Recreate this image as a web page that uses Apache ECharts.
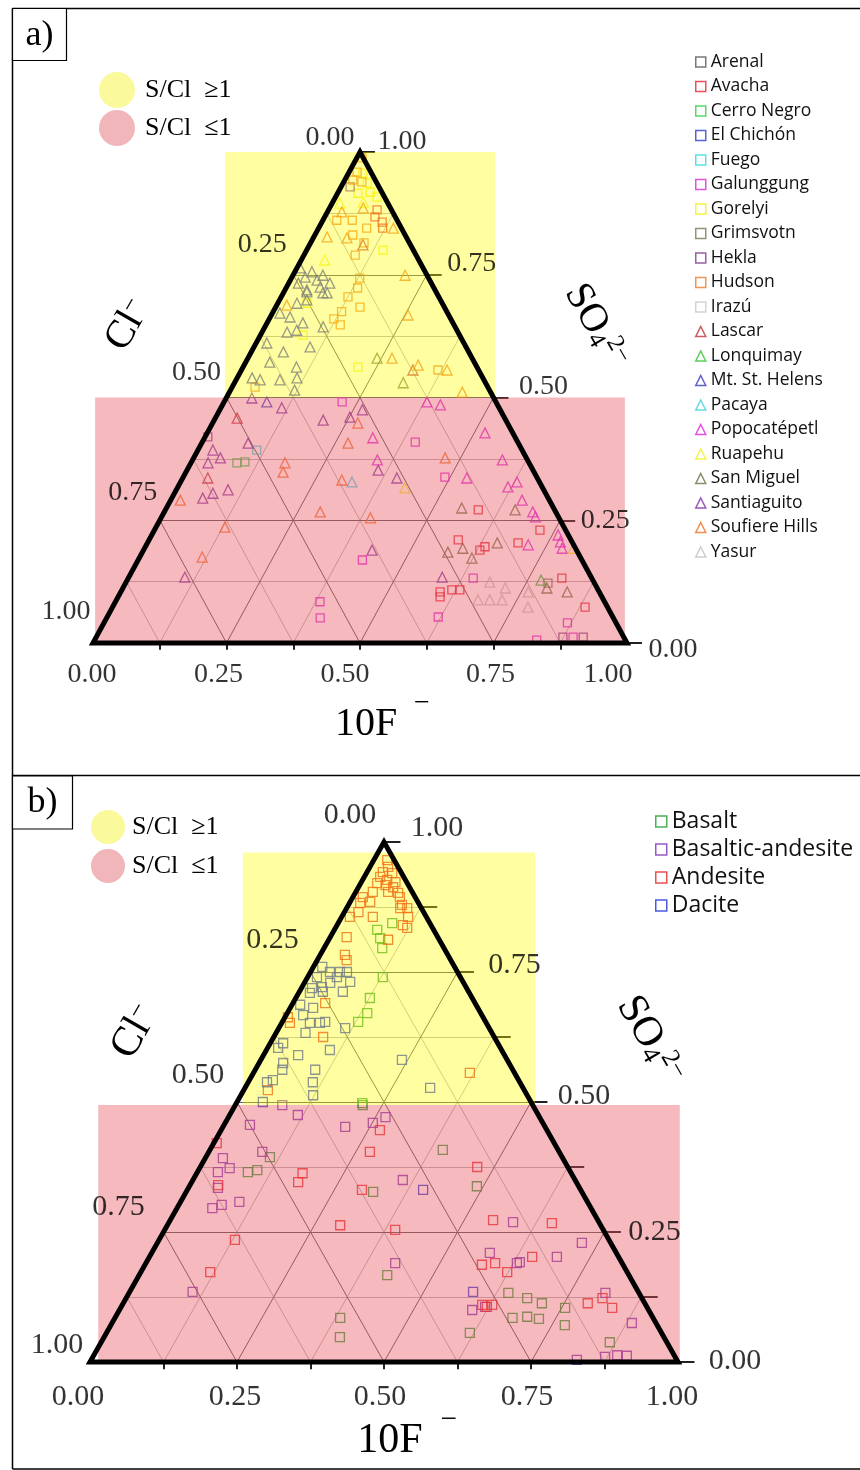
<!DOCTYPE html>
<html>
<head>
<meta charset="utf-8">
<script src="https://cdn.jsdelivr.net/npm/echarts@6.0.0/dist/echarts.min.js"></script>
<style>
  html, body { margin: 0; padding: 0; background: #fff; }
  #chart { width: 860px; height: 1470px; }
</style>
</head>
<body>
<div id="chart"></div>
<script>
(function() {
  var serif = '"Liberation Serif", "DejaVu Serif", serif';
  var sans = '"Open Sans", "Noto Sans", sans-serif';

  // ternary ticks
  var tickValues = [0, 0.25, 0.5, 0.75, 1];
  var tickLabels = ['0.00', '0.25', '0.50', '0.75', '1.00'];

  // --- panel a: volcanoes, points are [10F, SO4] fractions ---
  var volcanoes = ['Arenal', 'Avacha', 'Cerro Negro', 'El Chichón', 'Fuego', 'Galunggung', 'Gorelyi', 'Grimsvotn', 'Hekla', 'Hudson', 'Irazú',
    'Lascar', 'Lonquimay', 'Mt. St. Helens', 'Pacaya', 'Popocatépetl', 'Ruapehu', 'San Miguel', 'Santiaguito', 'Soufiere Hills', 'Yasur'];
  var volcanoColors = ['#555555', '#e8202a', '#2ecc40', '#2a3ad0', '#30d8d8', '#e020d8', '#f0f000', '#707a50', '#7a3a8a', '#f07a20', '#c8c8c8',
    '#c0303a', '#30c030', '#3a3ac0', '#40d0e0', '#e020e0', '#f0f020', '#6a7040', '#7a30a8', '#f07020', '#c0c0c0'];

  var arenal = [];
  var avacha = [[0.091, 0.882], [0.094, 0.868], [0.113, 0.857], [0.12, 0.845], [0.586, 0.271], [0.579, 0.21], [0.63, 0.189], [0.636, 0.196],
    [0.598, 0.104], [0.603, 0.094], [0.618, 0.108], [0.633, 0.108], [0.722, 0.23], [0.694, 0.204], [0.812, 0.132], [0.885, 0.073]];
  var cerroNegro = [[0.086, 0.367], [0.10, 0.369]];
  var elChichon = [];
  var fuego = [[0.11, 0.393]];
  var galunggung = [[0.221, 0.491], [0.399, 0.409], [0.49, 0.338], [0.42, 0.169], [0.383, 0.084], [0.40, 0.051], [0.646, 0.132], [0.62, 0.053],
    [0.868, 0.041], [0.893, 0.012], [0.828, 0.006]];
  var gorelyi = [[0.027, 0.957], [0.045, 0.937], [0.06, 0.918], [0.078, 0.908], [0.038, 0.916], [0.143, 0.80], [0.055, 0.692], [0.08, 0.627], [0.215, 0.562]];
  var grimsvotn = [[0.791, 0.122]];
  var hekla = [[0.017, 0.929], [0.005, 0.42], [0.874, 0.012], [0.912, 0.012]];
  var hudson = [[0.01, 0.988], [0.015, 0.959], [0.015, 0.943], [0.034, 0.939], [0.026, 0.861], [0.055, 0.861], [0.09, 0.845], [0.071, 0.831],
    [0.10, 0.815], [0.096, 0.79], [0.128, 0.743], [0.134, 0.723], [0.125, 0.705], [0.128, 0.675], [0.121, 0.66], [0.139, 0.648], [0.158, 0.684],
    [0.043, 0.521], [0.368, 0.556]];
  var irazu = [];
  var lascar = [[0.10, 0.811], [0.321, 0.556], [0.041, 0.458], [0.047, 0.336]];
  var lonquimay = [[0.775, 0.128]];
  var mtStHelens = [[0.006, 0.764], [0.032, 0.756], [0.025, 0.745], [0.05, 0.739], [0.056, 0.749], [0.077, 0.733], [0.063, 0.725], [0.018, 0.733],
    [0.043, 0.715], [0.082, 0.713], [0.041, 0.719], [0.074, 0.713], [0.036, 0.692], [0.051, 0.699], [0.014, 0.672], [0.037, 0.664], [0.067, 0.652],
    [0.047, 0.633], [0.063, 0.637], [0.109, 0.644], [0.02, 0.611], [0.06, 0.593], [0.105, 0.603], [0.045, 0.572], [0.10, 0.562], [0.028, 0.54],
    [0.045, 0.536], [0.112, 0.54], [0.12, 0.515], [0.082, 0.536], [0.08, 0.491]];
  var pacaya = [[0.321, 0.328]];
  var popocatepetl = [[0.38, 0.491], [0.408, 0.485], [0.315, 0.418], [0.346, 0.373], [0.532, 0.336], [0.52, 0.428], [0.58, 0.373], [0.618, 0.318],
    [0.63, 0.328], [0.658, 0.291], [0.69, 0.267], [0.70, 0.257], [0.761, 0.22], [0.772, 0.206], [0.782, 0.193], [0.715, 0.20]];
  var ruapehu = [[0.057, 0.898], [0.014, 0.896], [0.044, 0.78], [0.426, 0.316], [0.803, 0.193]];
  var sanMiguel = [[0.242, 0.58], [0.316, 0.53], [0.553, 0.275], [0.572, 0.185], [0.596, 0.193], [0.623, 0.173], [0.655, 0.271], [0.655, 0.204],
    [0.794, 0.112], [0.836, 0.104]];
  var santiaguito = [[0.048, 0.499], [0.114, 0.479], [0.204, 0.454], [0.087, 0.407], [0.028, 0.393], [0.05, 0.377], [0.032, 0.367], [0.072, 0.305],
    [0.058, 0.295], [0.097, 0.312], [0.105, 0.134], [0.251, 0.46], [0.267, 0.475], [0.358, 0.352], [0.401, 0.336], [0.428, 0.189], [0.587, 0.134]];
  var soufiereHills = [[0.063, 0.886], [0.027, 0.878], [0.14, 0.845], [0.025, 0.827], [0.063, 0.825], [0.21, 0.749], [0.019, 0.688], [0.256, 0.668],
    [0.27, 0.58], [0.326, 0.566], [0.385, 0.556], [0.436, 0.511], [0.176, 0.367], [0.182, 0.348], [0.018, 0.291], [0.129, 0.236], [0.117, 0.175],
    [0.292, 0.267], [0.272, 0.448], [0.274, 0.407], [0.30, 0.332], [0.392, 0.255], [0.471, 0.377]];
  var yasur = [[0.681, 0.124], [0.677, 0.088], [0.699, 0.088], [0.716, 0.112], [0.722, 0.088], [0.763, 0.104], [0.778, 0.073]];

  var volcanoData = [arenal, avacha, cerroNegro, elChichon, fuego, galunggung, gorelyi, grimsvotn, hekla, hudson, irazu,
    lascar, lonquimay, mtStHelens, pacaya, popocatepetl, ruapehu, sanMiguel, santiaguito, soufiereHills, yasur];

  // --- panel b: rock types ---
  var rockTypes = ['Basalt', 'Basaltic-andesite', 'Andesite', 'Dacite'];
  var rockColors = ['#1f9a2a', '#7a2fb8', '#e82020', '#2030d8'];

  var basalt = [[0.092, 0.844], [0.073, 0.831], [0.086, 0.815], [0.099, 0.796], [0.128, 0.74], [0.126, 0.70], [0.136, 0.671], [0.129, 0.654],
    [0.214, 0.498], [0.109, 0.394], [0.086, 0.365], [0.10, 0.369], [0.217, 0.494], [0.396, 0.408], [0.318, 0.327], [0.489, 0.338], [0.422, 0.167],
    [0.645, 0.133], [0.383, 0.085], [0.401, 0.048], [0.676, 0.085], [0.618, 0.056], [0.682, 0.123], [0.712, 0.113], [0.70, 0.087], [0.722, 0.083],
    [0.756, 0.104], [0.772, 0.071], [0.865, 0.038]];
  var basalticAndesite = [[0.08, 0.494], [0.116, 0.475], [0.044, 0.456], [0.091, 0.404], [0.03, 0.392], [0.051, 0.373], [0.035, 0.365], [0.05, 0.335],
    [0.10, 0.308], [0.073, 0.302], [0.06, 0.296], [0.107, 0.135], [0.208, 0.452], [0.251, 0.46], [0.267, 0.471], [0.357, 0.35], [0.424, 0.19],
    [0.585, 0.269], [0.575, 0.21], [0.631, 0.19], [0.60, 0.10], [0.722, 0.229], [0.635, 0.192], [0.693, 0.202], [0.81, 0.133], [0.884, 0.075],
    [0.619, 0.106], [0.826, 0.004], [0.871, 0.01], [0.89, 0.013], [0.907, 0.012]];
  var andesite = [[0.023, 0.965], [0.031, 0.952], [0.027, 0.942], [0.044, 0.94], [0.027, 0.933], [0.042, 0.927], [0.058, 0.923], [0.028, 0.921],
    [0.044, 0.917], [0.059, 0.913], [0.073, 0.902], [0.055, 0.904], [0.08, 0.894], [0.029, 0.904], [0.017, 0.894], [0.034, 0.885], [0.018, 0.883],
    [0.091, 0.879], [0.103, 0.873], [0.091, 0.873], [0.113, 0.856], [0.112, 0.84], [0.122, 0.835], [0.024, 0.865], [0.014, 0.856], [0.053, 0.856],
    [0.101, 0.812], [0.028, 0.817], [0.042, 0.783], [0.05, 0.773], [0.055, 0.69], [0.005, 0.663], [0.014, 0.652], [0.084, 0.625], [0.041, 0.523],
    [0.368, 0.556], [0.005, 0.421], [0.048, 0.34], [0.18, 0.363], [0.181, 0.346], [0.129, 0.235], [0.118, 0.173], [0.27, 0.446], [0.274, 0.404],
    [0.471, 0.375], [0.297, 0.331], [0.294, 0.263], [0.392, 0.254], [0.549, 0.273], [0.573, 0.187], [0.594, 0.19], [0.623, 0.173], [0.612, 0.11],
    [0.622, 0.106], [0.629, 0.11], [0.652, 0.267], [0.651, 0.202], [0.79, 0.113], [0.81, 0.123], [0.836, 0.104]];
  var dacite = [[0.015, 0.76], [0.033, 0.75], [0.05, 0.75], [0.062, 0.75], [0.05, 0.74], [0.016, 0.74], [0.018, 0.719], [0.034, 0.721], [0.044, 0.729],
    [0.077, 0.731], [0.019, 0.71], [0.04, 0.712], [0.074, 0.712], [0.014, 0.687], [0.039, 0.681], [0.029, 0.667], [0.048, 0.652], [0.065, 0.652],
    [0.073, 0.654], [0.05, 0.633], [0.113, 0.642], [0.022, 0.613], [0.018, 0.604], [0.108, 0.60], [0.059, 0.59], [0.041, 0.575], [0.046, 0.562],
    [0.102, 0.562], [0.24, 0.581], [0.11, 0.538], [0.032, 0.538], [0.04, 0.542], [0.123, 0.513], [0.044, 0.50], [0.315, 0.527], [0.401, 0.331],
    [0.584, 0.135]];

  var rockData = [basalt, basalticAndesite, andesite, dacite];

  // shaded S/Cl regions: [xStart, yStart, xEnd, yEnd] in triangle units
  var regionsA = { high: [0.247, 0.5, 0.753, 1.0], low: [0.004, 0, 0.996, 0.5] };
  var regionsB = { high: [0.26, 0.494, 0.757, 0.98], low: [0.014, 0, 1.003, 0.494] };
  var yellowFill = 'rgba(255,255,0,0.37)';
  var pinkFill = 'rgba(232,80,92,0.4)';

  // label nudges (px) per tick, order 0.00 .. 1.00
  var labelOffsetsA = {
    left: [[-30, -14], [-31, -30], [-30, -25], [-27, -28], [-27, -31]],
    right: [[46, 7], [45, 0], [50, -11], [45, -11], [42, -10]],
    bottom: [[-1, 32], [-8, 32], [-15, 32], [-3, 32], [-19, 32]]
  };
  var labelOffsetsB = {
    left: [[-34, -27], [-38, -32], [-39, -27], [-45, -25], [-33, -17]],
    right: [[57, -1], [50, 0], [53, -6], [57, -7], [53, -14]],
    bottom: [[-12, 35], [-2, 35], [-4, 35], [-4, 35], [-6, 35]]
  };

  function toXY(p) { return [p[0] + p[1] / 2, p[1]]; }

  function seg(a, b) { return { coords: [a, b] }; }

  function gridSeries(gi) {
    var major = [], minor = [];
    for (var k = 1; k < 8; k++) {
      var s = k / 8;
      var list = (k % 2 === 0) ? major : minor;
      list.push(seg([s / 2, s], [1 - s / 2, s]));
      list.push(seg([s, 0], [s + (1 - s) / 2, 1 - s]));
      list.push(seg([1 - s, 0], [(1 - s) / 2, 1 - s]));
    }
    var base = { type: 'lines', coordinateSystem: 'cartesian2d', xAxisIndex: gi, yAxisIndex: gi, silent: true, clip: false, z: 1 };
    return [
      Object.assign({}, base, { data: minor, lineStyle: { color: '#b0b0b0', width: 0.9, opacity: 1 } }),
      Object.assign({}, base, { data: major, lineStyle: { color: '#5f5f5f', width: 1, opacity: 1 } })
    ];
  }

  function tickSeries(gi, rightStep) {
    var d = [];
    for (var k = 0; k <= 8; k++) {
      var s = k / 8;
      if (k > 0 && k < 8) {
        d.push(seg([s / 2, s], [s / 2 - 0.012, s - 0.026]));
        d.push(seg([s, 0], [s, -0.014]));
      }
      if (k % rightStep === 0) d.push(seg([1 - s / 2, s], [1 - s / 2 + 0.028, s]));
    }
    return { type: 'lines', coordinateSystem: 'cartesian2d', xAxisIndex: gi, yAxisIndex: gi, silent: true, clip: false, z: 1,
      data: d, lineStyle: { color: '#222', width: 2, opacity: 1 } };
  }

  function edgeSeries(gi) {
    return { type: 'lines', coordinateSystem: 'cartesian2d', xAxisIndex: gi, yAxisIndex: gi, silent: true, clip: false, z: 4,
      polyline: true, data: [{ coords: [[0, 0], [1, 0], [0.5, 1], [0, 0], [1, 0]] }],
      lineStyle: { color: '#000', width: 5, opacity: 1, join: 'miter' } };
  }

  function regionSeries(gi, rect, fill) {
    return { type: 'custom', xAxisIndex: gi, yAxisIndex: gi, silent: true, z: 3, data: [rect],
      renderItem: function(params, api) {
        var p0 = api.coord([api.value(0), api.value(3)]);
        var p1 = api.coord([api.value(2), api.value(1)]);
        return { type: 'rect', shape: { x: p0[0], y: p0[1], width: p1[0] - p0[0], height: p1[1] - p0[1] }, style: { fill: fill } };
      } };
  }

  function labelSeries(gi, pts, offsets, size) {
    return { type: 'scatter', xAxisIndex: gi, yAxisIndex: gi, silent: true, clip: false, z: 6, symbolSize: 1,
      itemStyle: { color: 'rgba(0,0,0,0)' },
      data: pts.map(function(p, i) { return { value: p, name: tickLabels[i], label: { offset: offsets[i] } }; }),
      label: { show: true, position: 'inside', formatter: '{b}', color: '#000', textBorderWidth: 0,
        fontFamily: serif, fontSize: size } };
  }

  function axisLabels(gi, off, size) {
    return [
      labelSeries(gi, tickValues.map(function(v) { return [(1 - v) / 2, 1 - v]; }), off.left, size),
      labelSeries(gi, tickValues.map(function(v) { return [1 - v / 2, v]; }), off.right, size),
      labelSeries(gi, tickValues.map(function(v) { return [v, 0]; }), off.bottom, size)
    ];
  }

  var series = [];
  series = series.concat(gridSeries(0), gridSeries(1));
  series.push(tickSeries(0, 2), tickSeries(1, 1));

  volcanoes.forEach(function(name, i) {
    var tri = i >= 11;
    series.push({ name: name, type: 'scatter', xAxisIndex: 0, yAxisIndex: 0, z: 2,
      symbol: tri ? 'triangle' : 'rect', symbolSize: tri ? 10 : 8,
      itemStyle: { color: 'rgba(0,0,0,0)', borderColor: volcanoColors[i], borderWidth: 1.3 },
      data: volcanoData[i].map(toXY) });
  });
  rockTypes.forEach(function(name, i) {
    series.push({ name: name, type: 'scatter', xAxisIndex: 1, yAxisIndex: 1, z: 2,
      symbol: 'rect', symbolSize: 9,
      itemStyle: { color: 'rgba(0,0,0,0)', borderColor: rockColors[i], borderWidth: 1.3 },
      data: rockData[i].map(toXY) });
  });

  series.push(regionSeries(0, regionsA.high, yellowFill), regionSeries(0, regionsA.low, pinkFill));
  series.push(regionSeries(1, regionsB.high, yellowFill), regionSeries(1, regionsB.low, pinkFill));
  series.push(edgeSeries(0), edgeSeries(1));
  series = series.concat(axisLabels(0, labelOffsetsA, 28));
  series = series.concat(axisLabels(1, labelOffsetsB, 30));

  function legendItems(names, colors, shapeOf) {
    return names.map(function(n, i) {
      return { name: n, icon: shapeOf(i), itemStyle: { color: 'rgba(0,0,0,0)', borderColor: colors[i], borderWidth: 1.5 } };
    });
  }

  function axisTitles(t) {
    var rich = { m: { fontFamily: serif, fontSize: t.size, color: '#000' },
      b: { fontFamily: serif, fontSize: t.size * 0.62, color: '#000', verticalAlign: 'bottom' },
      t: { fontFamily: serif, fontSize: t.size * 0.62, color: '#000', verticalAlign: 'top' } };
    return [
      { type: 'text', x: t.f[0], y: t.f[1], style: { text: '10F', font: t.size + 'px ' + serif, fill: '#000', align: 'center', verticalAlign: 'middle' } },
      { type: 'text', x: t.f[0] + t.size * 1.4, y: t.f[1] - t.size * 0.5, style: { text: '−', font: (t.size * 0.7) + 'px ' + serif, fill: '#000', align: 'center', verticalAlign: 'middle' } },
      { type: 'text', x: t.cl[0], y: t.cl[1], rotation: Math.PI / 3, style: { text: '{m|Cl}{t|−}', rich: rich, align: 'center', verticalAlign: 'middle' } },
      { type: 'text', x: t.so[0], y: t.so[1], rotation: -Math.PI / 3, style: { text: '{m|SO}{b|4}{t|2−}', rich: rich, align: 'center', verticalAlign: 'middle' } }
    ];
  }

  function ratioKey(x, y1, y2, r, tx, size) {
    return [
      { type: 'circle', shape: { cx: x, cy: y1, r: r }, style: { fill: '#fafa9c' } },
      { type: 'circle', shape: { cx: x, cy: y2, r: r }, style: { fill: '#f0b6ba' } },
      { type: 'text', x: tx, y: y1, style: { text: 'S/Cl  ≥1', font: size + 'px ' + serif, fill: '#000', verticalAlign: 'middle' } },
      { type: 'text', x: tx, y: y2, style: { text: 'S/Cl  ≤1', font: size + 'px ' + serif, fill: '#000', verticalAlign: 'middle' } }
    ];
  }

  var frame = [
    { type: 'line', shape: { x1: 12.5, y1: 8.5, x2: 860, y2: 8.5 }, style: { stroke: '#000', lineWidth: 1.5 } },
    { type: 'line', shape: { x1: 12.5, y1: 8.5, x2: 12.5, y2: 1469 }, style: { stroke: '#000', lineWidth: 1.5 } },
    { type: 'line', shape: { x1: 12.5, y1: 775.5, x2: 860, y2: 775.5 }, style: { stroke: '#000', lineWidth: 1.5 } },
    { type: 'line', shape: { x1: 12.5, y1: 1469, x2: 860, y2: 1469 }, style: { stroke: '#000', lineWidth: 1.5 } },
    { type: 'rect', shape: { x: 12.5, y: 8.5, width: 54, height: 52 }, style: { fill: '#fff', stroke: '#000', lineWidth: 1.2 } },
    { type: 'text', x: 39.5, y: 36, style: { text: 'a)', font: '36px ' + serif, fill: '#000', align: 'center', verticalAlign: 'middle' } },
    { type: 'rect', shape: { x: 12.5, y: 776, width: 60, height: 53 }, style: { fill: '#fff', stroke: '#000', lineWidth: 1.2 } },
    { type: 'text', x: 42.5, y: 803, style: { text: 'b)', font: '36px ' + serif, fill: '#000', align: 'center', verticalAlign: 'middle' } }
  ];

  var graphics = frame
    .concat(ratioKey(117, 90, 128, 18, 145, 26))
    .concat(ratioKey(108, 827, 866, 17, 132, 26))
    .concat(axisTitles({ size: 40, f: [366, 724], cl: [128, 325], so: [596, 326] }))
    .concat(axisTitles({ size: 42, f: [390, 1441], cl: [135, 1032], so: [650, 1040] }));

  var chart = echarts.init(document.getElementById('chart'), null, { renderer: 'canvas' });
  chart.setOption({
    animation: false,
    backgroundColor: '#fff',
    grid: [
      { left: 93, top: 152, width: 534, height: 491 },
      { left: 90, top: 842, width: 588, height: 520 }
    ],
    xAxis: [
      { gridIndex: 0, type: 'value', min: 0, max: 1, show: false },
      { gridIndex: 1, type: 'value', min: 0, max: 1, show: false }
    ],
    yAxis: [
      { gridIndex: 0, type: 'value', min: 0, max: 1, show: false },
      { gridIndex: 1, type: 'value', min: 0, max: 1, show: false }
    ],
    legend: [
      { orient: 'vertical', left: 695, top: 53, padding: 0, itemWidth: 10, itemHeight: 10, itemGap: 6.5, selectedMode: false,
        textStyle: { fontFamily: sans, fontSize: 17.5, color: '#111', lineHeight: 17.5 },
        data: legendItems(volcanoes, volcanoColors, function(i) { return i >= 11 ? 'triangle' : 'rect'; }) },
      { orient: 'vertical', left: 655, top: 810, padding: 0, itemWidth: 11, itemHeight: 11, itemGap: 5, selectedMode: false,
        textStyle: { fontFamily: sans, fontSize: 23, color: '#111', lineHeight: 23 },
        data: legendItems(rockTypes, rockColors, function() { return 'rect'; }) }
    ],
    graphic: { elements: graphics },
    series: series
  });
})();
</script>
</body>
</html>
